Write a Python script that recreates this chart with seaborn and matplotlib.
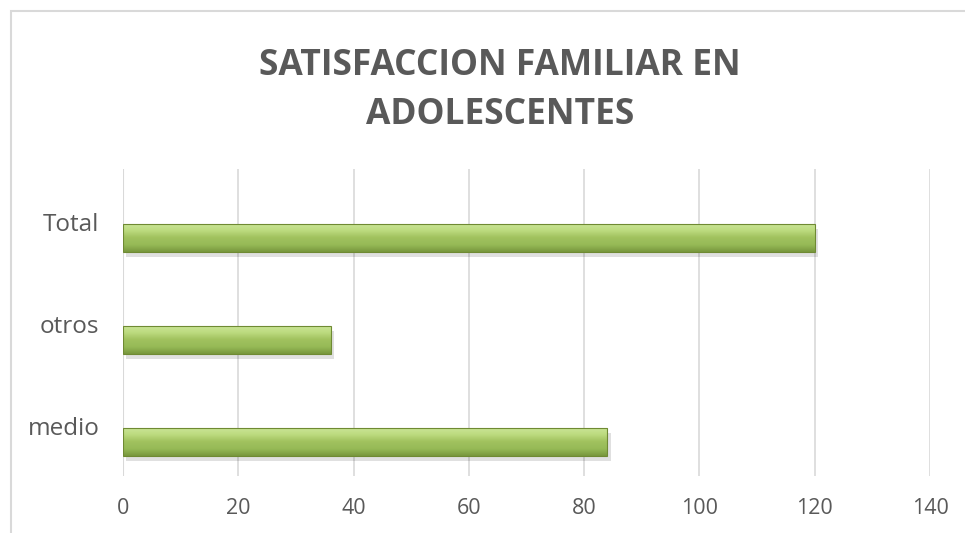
import numpy as np
import pandas as pd
import matplotlib
matplotlib.use("Agg")
import matplotlib.pyplot as plt
import matplotlib.transforms as mtransforms
import seaborn as sns
from matplotlib.patches import Rectangle

categories = ["Total", "otros", "medio"]
values = [120, 36, 84]
x_ticks = [0, 20, 40, 60, 80, 100, 120, 140]
title_lines = ["SATISFACCION FAMILIAR EN", "ADOLESCENTES"]

sns.set_style("white")
plt.rcParams["font.family"] = ["Open Sans", "DejaVu Sans"]

df = pd.DataFrame({"cat": categories, "val": values})

fig = plt.figure(figsize=(9.65, 5.33), dpi=100)
ax = fig.add_axes([123/965, 1-476/533, 807/965, (476-169)/533])

sns.barplot(data=df, x="val", y="cat", orient="h", order=categories,
            color="#9bbb59", width=0.28, ax=ax, zorder=3)

# gradient + bevel overlay on each bar
grad_colors = np.array([
    [0.80, 0.90, 0.60],
    [0.74, 0.86, 0.50],
    [0.63, 0.76, 0.37],
    [0.59, 0.73, 0.34],
    [0.47, 0.59, 0.24],
])
ys = np.linspace(0, 1, 100)
pos = np.linspace(0, 1, len(grad_colors))
grad = np.stack([np.interp(ys, pos, grad_colors[:, c]) for c in range(3)], axis=1)
grad_img = grad[:, None, :]

for p in list(ax.patches):
    x0, y0 = p.get_x(), p.get_y()
    w, h = p.get_width(), p.get_height()
    sh = Rectangle((x0 + 0.6, y0 + 0.05), w, h, facecolor="#000000", alpha=0.12,
                   edgecolor="none", zorder=2)
    ax.add_patch(sh)
    im = ax.imshow(grad_img, extent=[x0, x0 + w, y0 + h, y0], aspect="auto",
                   zorder=4, interpolation="bilinear")
    im.set_clip_path(p)
    p.set_edgecolor("#6f8a33")
    p.set_linewidth(0.8)
    p.set_facecolor("none")
    p.set_zorder(5)

ax.set_xlim(0, 140)
ax.set_ylim(2 + 34/102, -(238-169)/102)
ax.set_xticks(x_ticks)
ax.set_xticklabels([str(t) for t in x_ticks])
ax.xaxis.grid(True, color="#d9d9d9", linewidth=1.2, zorder=0)
ax.set_axisbelow(True)
for s in ax.spines.values():
    s.set_visible(False)
ax.axvline(0, color="#d9d9d9", linewidth=1.5, zorder=1)
ax.tick_params(axis="both", length=0, labelcolor="#595959")
ax.tick_params(axis="x", pad=16, labelsize=15.5)
ax.tick_params(axis="y", pad=17, labelsize=17.5)
ax.set_xlabel("")
ax.set_ylabel("")

shift = mtransforms.ScaledTranslation(0, 16/100, fig.dpi_scale_trans)
for lab in ax.get_yticklabels():
    lab.set_transform(lab.get_transform() + shift)

for txt, ypix in zip(title_lines, [75, 124]):
    fig.text(500/965, 1-ypix/533, txt, ha="center", va="baseline", fontsize=25.5,
             fontweight="bold", color="#595959")

fig.patches.append(Rectangle((11/965, -0.1), 1.2, (533-11)/533 + 0.1,
                             transform=fig.transFigure, fill=False,
                             edgecolor="#d9d9d9", linewidth=1.5))

fig.savefig("out.png", dpi=100, facecolor="white")
